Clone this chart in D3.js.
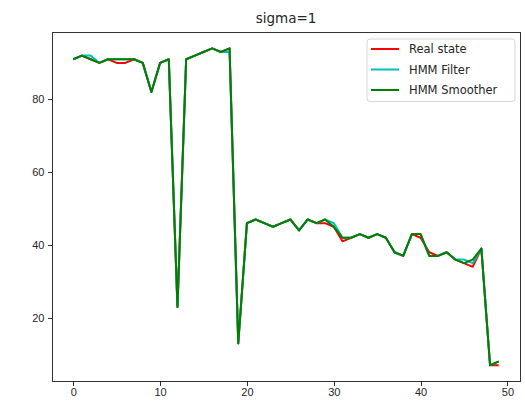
<!doctype html>
<html lang="en">
<head>
  <meta charset="utf-8">
  <title>sigma=1</title>
  <style>
body {
  margin: 0;
  background: #fff;
}
svg {
  font-family: "DejaVu Sans", sans-serif;
}
.axis path,
.axis line {
  stroke: #000;
  stroke-width: 0.8;
  shape-rendering: crispEdges;
}
.axis text {
  font-size: 11px;
  fill: #262626;
}
.series {
  fill: none;
  stroke-width: 2;
  stroke-linejoin: round;
}
  </style>
</head>
<body>
  <script src="https://d3js.org/d3.v7.min.js"></script>
  <script>
// values
var steps = d3.range(50);
var realState = [91,92,91,90,91,90,90,91,90,82,90,91,23,91,92,93,94,93,94,13,
                 46,47,46,45,46,47,44,47,46,46,45,41,42,43,42,43,42,38,37,43,
                 42,38,37,38,36,35,34,39,7,7];
var hmmFilter = [91,92,92,90,91,91,91,91,90,82,90,91,23,91,92,93,94,93,93,13,
                 46,47,46,45,46,47,44,47,46,47,46,42,42,43,42,43,42,38,37,43,
                 43,37,37,38,36,36,35,39,7,8];
var hmmSmoother = [91,92,91,90,91,91,91,91,90,82,90,91,23,91,92,93,94,93,94,13,
                   46,47,46,45,46,47,44,47,46,47,45,42,42,43,42,43,42,38,37,43,
                   43,37,37,38,36,35,36,39,7,8];
var xTicks = [0, 10, 20, 30, 40, 50];
var yTicks = [20, 40, 60, 80];

var series = [
  {name: "Real state", values: realState, color: "#ff0000"},
  {name: "HMM Filter", values: hmmFilter, color: "#00bfbf"},
  {name: "HMM Smoother", values: hmmSmoother, color: "#008000"}
];

var W = 525, H = 403;
var margin = {top: 32.5, right: 5, bottom: 22, left: 52},
    width = W - margin.left - margin.right,
    height = H - margin.top - margin.bottom;

// matplotlib style 5% padding on both axes
var xPad = (d3.max(steps) - d3.min(steps)) * 0.05;
var allVals = realState.concat(hmmFilter, hmmSmoother);
var yMin = d3.min(allVals), yMax = d3.max(allVals);
var yPad = (yMax - yMin) * 0.05;

var x = d3.scaleLinear()
    .domain([d3.min(steps) - xPad, d3.max(steps) + xPad])
    .range([0, width]);
var y = d3.scaleLinear()
    .domain([yMin - yPad, yMax + yPad])
    .range([height, 0]);

var svg = d3.select("body").append("svg")
    .attr("width", W)
    .attr("height", H);

var g = svg.append("g")
    .attr("transform", "translate(" + margin.left + "," + margin.top + ")");

var line = d3.line()
    .x(function(d, i) { return x(steps[i]); })
    .y(function(d) { return y(d); });

g.selectAll(".series")
    .data(series)
    .enter().append("path")
    .attr("class", "series")
    .attr("stroke", function(d) { return d.color; })
    .attr("d", function(d) { return line(d.values); });

// frame
g.append("rect")
    .attr("width", width)
    .attr("height", height)
    .attr("fill", "none")
    .attr("stroke", "#000")
    .attr("stroke-width", 0.8)
    .attr("shape-rendering", "crispEdges");

g.append("g")
    .attr("class", "x axis")
    .attr("transform", "translate(0," + height + ")")
    .call(d3.axisBottom(x).tickValues(xTicks).tickSize(4.5).tickPadding(3))
    .call(function(a) { a.select(".domain").remove(); });

g.append("g")
    .attr("class", "y axis")
    .call(d3.axisLeft(y).tickValues(yTicks).tickSize(4.5).tickPadding(3))
    .call(function(a) { a.select(".domain").remove(); });

svg.append("text")
    .attr("x", margin.left + width / 2)
    .attr("y", 23)
    .attr("text-anchor", "middle")
    .attr("font-size", "13.5px")
    .attr("fill", "#262626")
    .text("sigma=1");

// legend
var legend = svg.append("g")
    .attr("transform", "translate(367,39)");

legend.append("rect")
    .attr("width", 148)
    .attr("height", 62.5)
    .attr("rx", 3)
    .attr("fill", "#fff")
    .attr("fill-opacity", 0.8)
    .attr("stroke", "#d6d6d6")
    .attr("stroke-width", 1);

var item = legend.selectAll(".item")
    .data(series)
    .enter().append("g")
    .attr("class", "item")
    .attr("transform", function(d, i) { return "translate(0," + (10 + i * 20.5) + ")"; });

item.append("line")
    .attr("x1", 4)
    .attr("x2", 32)
    .attr("stroke", function(d) { return d.color; })
    .attr("stroke-width", 2);

item.append("text")
    .attr("x", 42)
    .attr("dy", "0.35em")
    .attr("font-size", "11.5px")
    .attr("fill", "#262626")
    .text(function(d) { return d.name; });
  </script>
</body>
</html>
